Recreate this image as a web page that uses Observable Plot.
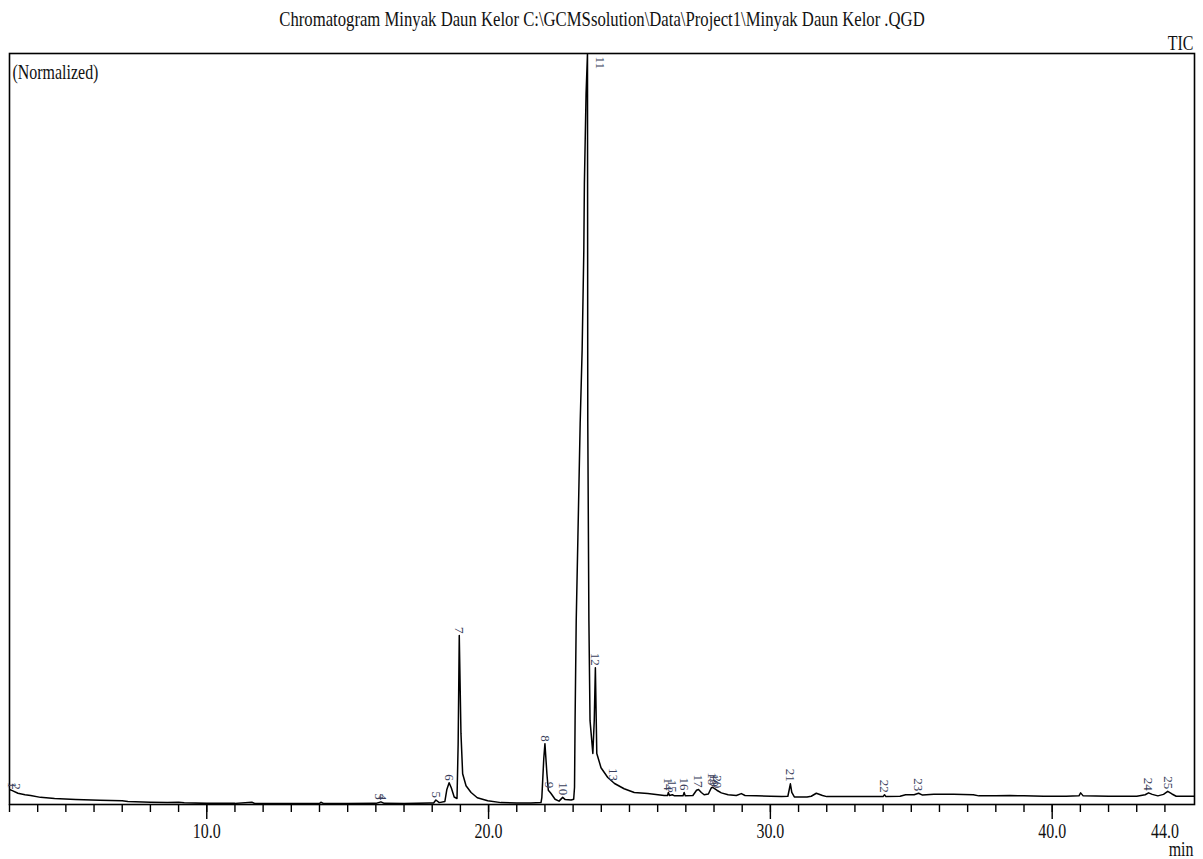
<!DOCTYPE html>
<html>
<head>
<meta charset="utf-8">
<script src="https://cdn.jsdelivr.net/npm/d3@7"></script>
<script src="https://cdn.jsdelivr.net/npm/@observablehq/plot@0.6"></script>
<style>
  html, body { margin: 0; padding: 0; background: #fff; }
</style>
</head>
<body>
<div id="chart"></div>
<script>
// Retention time (min) of the TIC trace
const traceTime = [
  3.00, 3.10, 3.30, 3.55, 3.75, 4.10, 4.60, 5.35, 6.20, 7.00, 7.20, 8.00, 8.60, 9.00, 9.20, 10.0, 11.0, 11.6, 11.7, 12.5,
  14.0, 14.05, 14.15, 15.0, 16.0, 16.18, 16.3, 17.0, 17.9, 18.05, 18.13, 18.25, 18.45, 18.52, 18.60, 18.68, 18.78, 18.88,
  18.92, 18.96, 19.02, 19.08, 19.20, 19.38, 19.60, 19.97, 20.44, 21.0, 21.5, 21.86, 21.89, 21.96, 22.00, 22.07, 22.12,
  22.21, 22.36, 22.50, 22.63, 22.72, 22.93, 23.02, 23.05, 23.07, 23.11, 23.17, 23.25, 23.32, 23.38, 23.40, 23.46, 23.51,
  23.52, 23.56, 23.60, 23.70, 23.75, 23.79, 23.84, 23.88, 23.99, 24.23, 24.47, 24.81, 25.17, 25.65, 26.23, 26.35, 26.38,
  26.42, 26.52, 26.60, 26.90, 26.94, 26.98, 27.25, 27.38, 27.45, 27.55, 27.65, 27.80, 27.90, 27.95, 28.02, 28.10, 28.26,
  28.50, 28.79, 28.97, 29.10, 29.50, 30.00, 30.40, 30.62, 30.67, 30.71, 30.76, 30.85, 31.30, 31.45, 31.63, 31.85, 32.00,
  33.00, 34.00, 34.05, 34.10, 34.60, 34.80, 35.10, 35.26, 35.40, 35.80, 36.50, 37.20, 37.40, 38.00, 38.50, 39.00, 39.70,
  40.50, 40.95, 41.01, 41.10, 42.00, 43.00, 43.30, 43.42, 43.55, 43.75, 43.95, 44.10, 44.25, 44.40, 45.05
];
// Normalized intensity (% of full scale)
const traceIntensity = [
  2.0, 1.85, 1.5, 1.3, 1.2, 0.95, 0.8, 0.65, 0.55, 0.5, 0.4, 0.3, 0.25, 0.3, 0.22, 0.15, 0.15, 0.3, 0.14, 0.12,
  0.12, 0.3, 0.12, 0.12, 0.15, 0.35, 0.15, 0.12, 0.2, 0.2, 0.6, 0.25, 0.4, 2.0, 2.9, 2.2, 1.0, 0.8,
  8.0, 22.5, 9.5, 4.1, 2.5, 1.6, 0.9, 0.5, 0.25, 0.2, 0.2, 0.25, 0.9, 6.2, 8.1, 4.1, 1.9,
  1.5, 0.7, 0.45, 0.95, 0.65, 0.6, 0.7, 2.3, 11.2, 24.5, 35.6, 50.7, 60.5, 73.8, 82.7, 94.7, 100,
  51.1, 24.5, 11.2, 6.8, 11.2, 18.2, 6.8, 6.3, 4.9, 3.6, 2.8, 2.1, 1.6, 1.45, 1.2, 1.2, 1.6,
  1.2, 1.3, 1.15, 1.15, 1.6, 1.15, 1.2, 1.9, 2.0, 1.6, 1.3, 1.4, 2.2, 2.3, 2.1, 1.9, 1.55,
  1.3, 1.2, 1.45, 1.2, 1.15, 1.1, 1.05, 1.1, 2.0, 2.75, 1.6, 1.0, 1.0, 1.1, 1.5, 1.2, 1.05,
  1.05, 1.05, 1.3, 1.05, 1.1, 1.3, 1.3, 1.5, 1.25, 1.35, 1.35, 1.3, 1.15, 1.15, 1.2, 1.15, 1.1,
  1.1, 1.15, 1.55, 1.15, 1.1, 1.1, 1.3, 1.55, 1.35, 1.15, 1.35, 1.75, 1.4, 1.1, 1.1
];

// Peak table
const peakNo   = ["1","2","3","4","5","6","7","8","9","10","11","12","13","14","15","16","17","18","19","20","21","22","23","24","25"];
const peakTime = [3.08, 3.22, 16.12, 16.22, 18.13, 18.60, 18.96, 22.00, 22.15, 22.63, 23.51, 23.79, 24.43, 26.38, 26.52, 26.94, 27.45, 27.95, 28.02, 28.10, 30.71, 34.05, 35.26, 43.42, 44.10];
const peakTop  = [1.9, 1.7, 0.35, 0.3, 0.6, 2.9, 22.5, 8.1, 1.9, 0.95, 100, 18.2, 2.85, 1.6, 1.3, 1.6, 2.0, 2.3, 2.1, 1.9, 2.75, 1.3, 1.5, 1.55, 1.75];

// Axis
const minorTicks = d3.range(3, 45);
const majorTicks = [10, 20, 30, 40];
const tickLabels = [10, 20, 30, 40, 44];

const titleText = "Chromatogram Minyak Daun Kelor C:\\GCMSsolution\\Data\\Project1\\Minyak Daun Kelor .QGD";
const cornerLeft = "(Normalized)";
const cornerRight = "TIC";
const unitText = "min";

const trace = traceTime.map((t, i) => ({t, v: traceIntensity[i]}));
const peaks = peakNo.map((n, i) => ({n, t: peakTime[i], v: peakTop[i]}));

const serif = "'Liberation Serif', 'Times New Roman', serif";

const chart = Plot.plot({
  width: 1203,
  height: 859,
  marginLeft: 9,
  marginRight: 9,
  marginTop: 53,
  marginBottom: 55,
  style: {fontFamily: serif, background: "#fff"},
  x: {domain: [3, 45.05], axis: null, label: null},
  y: {domain: [0, 100], axis: null, label: null},
  marks: [
    Plot.line(trace, {x: "t", y: "v", stroke: "#000", strokeWidth: 1.5, clip: true}),
    Plot.frame({stroke: "#000", strokeWidth: 1.6}),
    Plot.axisX({ticks: minorTicks, tickSize: 8, text: null, label: null, stroke: "#000", strokeWidth: 1.4}),
    Plot.axisX({ticks: majorTicks, tickSize: 15, text: null, label: null, stroke: "#000", strokeWidth: 1.4}),
    Plot.text(tickLabels, {x: d => d, text: d => d.toFixed(1), frameAnchor: "bottom", lineAnchor: "bottom", dy: 33,
      fontSize: 21, fill: "#111", className: "cond"}),
    Plot.text([unitText], {text: d => d, frameAnchor: "bottom-right", textAnchor: "end", lineAnchor: "bottom", dy: 51, dx: -1,
      fontSize: 21, fill: "#111", className: "cond"}),
    Plot.text([titleText], {text: d => d, frameAnchor: "top", lineAnchor: "bottom", dy: -28,
      fontSize: 21, fill: "#111", className: "condw"}),
    Plot.text([cornerRight], {text: d => d, frameAnchor: "top-right", textAnchor: "end", lineAnchor: "bottom", dy: -4, dx: -1,
      fontSize: 21, fill: "#111", className: "cond"}),
    Plot.text([cornerLeft], {text: d => d, frameAnchor: "top-left", textAnchor: "start", lineAnchor: "bottom", dy: 25, dx: 3,
      fontSize: 21, fill: "#111", className: "cond"}),
    // peak labels (on-scale peaks)
    Plot.text(peaks.filter(p => p.v < 100), {x: "t", y: "v", text: "n", rotate: 90, textAnchor: "end", dy: -2,
      fontSize: 13, fill: "#3b3f5c"}),
    // off-scale peak label
    Plot.text(peaks.filter(p => p.v >= 100), {x: "t", y: "v", text: "n", rotate: 90, textAnchor: "start", dy: 3, dx: 13,
      fontSize: 13, fill: "#3b3f5c"})
  ]
});

document.getElementById("chart").appendChild(chart);

// horizontally condensed serif lettering, as in the instrument printout
function condense(selector, k) {
  chart.querySelectorAll(selector).forEach(el => {
    let tr = el.getAttribute("transform") || "";
    const x = el.getAttribute("x"), y = el.getAttribute("y");
    if (x !== null || y !== null) {
      tr = `translate(${x || 0},${y || 0}) ` + tr;
      el.removeAttribute("x");
      el.removeAttribute("y");
    }
    el.setAttribute("transform", tr + ` scale(${k},1)`);
  });
}
condense("g.cond text", 0.76);
condense("g.condw text", 0.795);
</script>
</body>
</html>
